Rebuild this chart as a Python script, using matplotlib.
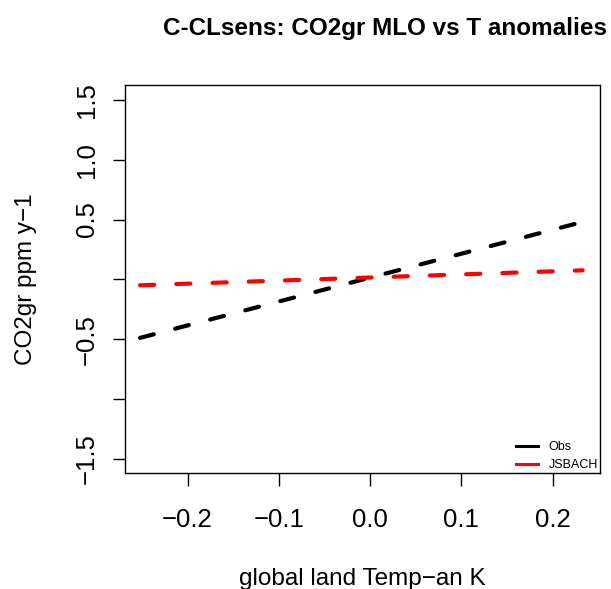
import matplotlib.pyplot as plt
import numpy as np

plt.rcParams['font.family'] = ['Liberation Sans', 'DejaVu Sans']

# regression lines, global land T anomaly (K) vs CO2 growth rate (ppm/y)
temp = [-0.252, 0.233]
obs = [-0.49, 0.48]
jsbach = [-0.05, 0.075]

xticks = [-0.2, -0.1, 0.0, 0.1, 0.2]
yticks = [-1.5, -1.0, -0.5, 0.0, 0.5, 1.0, 1.5]
ylabels = ["\u22121.5", "", "\u22120.5", "", "0.5", "1.0", "1.5"]

fig = plt.figure(figsize=(6.11, 5.89), dpi=100)
ax = fig.add_axes([125 / 611, 1 - 473 / 589, 475 / 611, 388 / 589])

dash = (0, (3.4, 5.3))
ax.plot(temp, obs, color="black", lw=3, ls=dash, dash_capstyle="round", label="Obs")
ax.plot(temp, jsbach, color="red", lw=3, ls=dash, dash_capstyle="round", label="JSBACH")

ax.set_xlim(-0.2685, 0.252)
ax.set_ylim(-1.62, 1.625)

ax.set_xticks(xticks)
ax.set_xticklabels([f"{v:.1f}".replace("-", "\u2212") for v in xticks])
ax.set_yticks(yticks)
ax.set_yticklabels(ylabels, rotation=90, va="center")
ax.tick_params(direction="out", length=9, width=1, labelsize=18.5, pad=16)
ax.tick_params(axis="y", pad=10)
for s in ax.spines.values():
    s.set_linewidth(1)

ax.set_xlabel("global land Temp\u2212an K", fontsize=17.5, labelpad=26)
ax.set_ylabel("CO2gr ppm y\u22121", fontsize=17.5, labelpad=27)

leg = ax.legend(loc="lower right", frameon=False, fontsize=9,
                handlelength=1.7, handletextpad=0.9, borderaxespad=0,
                borderpad=0.15, labelspacing=0.45)
for h in leg.get_lines():
    h.set_linestyle("-")
    h.set_linewidth(2.2)

fig.text(385 / 611, 1 - 29 / 589, "C-CLsens: CO2gr MLO vs T anomalies",
         ha="center", va="center", fontsize=17.5, fontweight="bold")

fig.savefig("out.png", dpi=100)
